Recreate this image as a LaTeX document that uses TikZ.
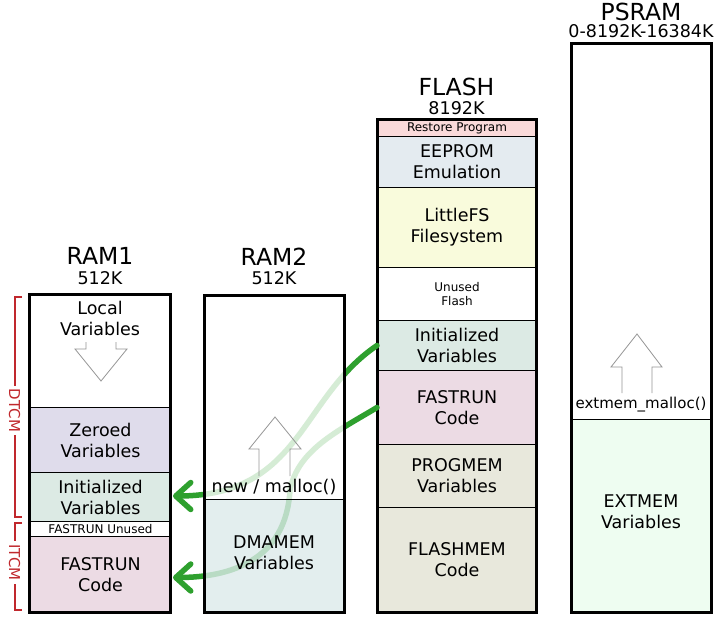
\documentclass[tikz,border=0pt]{standalone}
\usepackage{fontspec}
\setmainfont{DejaVu Sans}
\usetikzlibrary{arrows.meta}
\definecolor{cZero}{RGB}{223,220,235}
\definecolor{cInit}{RGB}{220,234,228}
\definecolor{cFast}{RGB}{236,219,228}
\definecolor{cDma}{RGB}{220,234,234}
\definecolor{cRest}{RGB}{250,218,218}
\definecolor{cEep}{RGB}{228,235,240}
\definecolor{cFs}{RGB}{249,251,220}
\definecolor{cProg}{RGB}{232,232,220}
\definecolor{cExt}{RGB}{238,253,241}
\definecolor{cGreen}{RGB}{46,160,46}
\definecolor{cRed}{RGB}{192,40,45}
\definecolor{cGray}{RGB}{150,150,150}
\newcommand\myBody{\fontsize{17.5}{21}\selectfont}
\newcommand\myTitle{\fontsize{23.5}{28}\selectfont}
\newcommand\mySmall{\fontsize{12}{13.5}\selectfont}
\newcommand\myMid{\fontsize{15}{18}\selectfont}
\begin{document}
\begin{tikzpicture}[x=1pt,y=-1pt,
  reg/.style={draw=black, line width=1pt, anchor=north west, inner sep=0pt, align=center, font=\myBody},
  outer/.style={draw=black, line width=3pt},
  title/.style={font=\myTitle, inner sep=0pt},
  sub/.style={font=\myBody, inner sep=0pt},
  txt/.style={font=\myBody, inner sep=0pt, align=center},
  hollow/.style={draw=cGray, line width=0.8pt},
  garrow/.style={draw=cGreen, line width=5.5pt, line cap=round, -{Straight Barb[length=15pt,width=27pt,round]}},
  bracket/.style={draw=cRed, line width=1.1pt},
  blabel/.style={font=\myMid, text=cRed, rotate=-90, inner sep=0pt}]
\useasboundingbox (0,0) rectangle (720,620);

% ---------- RAM1 ----------
\node[title] (r1title) at (100,256) {RAM1};
\node[sub] (r1size) at (100,278) {512K};
\node[reg, fill=white, minimum width=141pt, minimum height=112pt] (r1local) at (29.5,295) {};
\node[reg, fill=cZero, minimum width=141pt, minimum height=65pt] (r1zero) at (29.5,407) {Zeroed\\Variables};
\node[reg, fill=cInit, minimum width=141pt, minimum height=49pt] (r1init) at (29.5,472) {Initialized\\Variables};
\node[reg, fill=white, minimum width=141pt, minimum height=15pt, font=\mySmall] (r1unused) at (29.5,521) {FASTRUN Unused};
\node[reg, fill=cFast, minimum width=141pt, minimum height=76pt] (r1fast) at (29.5,536) {FASTRUN\\Code};
\node[txt] (r1localtxt) at (100,318.5) {Local\\Variables};
\draw[hollow] (86,342) -- (86,349) -- (75,349) -- (101,381) -- (127,349) -- (116,349) -- (116,342);
\draw[outer] (29.5,295) rectangle (170.5,612);

% ---------- FLASH ----------
\node[title] (fltitle) at (456.5,86.5) {FLASH};
\node[sub] (flsize) at (456.5,108) {8192K};
\node[reg, fill=cRest, minimum width=159pt, minimum height=16pt, font=\mySmall] (flrest) at (377,120) {Restore Program};
\node[reg, fill=cEep, minimum width=159pt, minimum height=51pt] (fleep) at (377,136) {EEPROM\\Emulation};
\node[reg, fill=cFs, minimum width=159pt, minimum height=80pt] (flfs) at (377,187) {LittleFS\\Filesystem};
\node[reg, fill=white, minimum width=159pt, minimum height=53pt, font=\mySmall] (flunused) at (377,267) {Unused\\Flash};
\node[reg, fill=cInit, minimum width=159pt, minimum height=50pt] (flinit) at (377,320) {Initialized\\Variables};
\node[reg, fill=cFast, minimum width=159pt, minimum height=74pt] (flfast) at (377,370) {FASTRUN\\Code};
\node[reg, fill=cProg, minimum width=159pt, minimum height=63pt] (flprog) at (377,444) {PROGMEM\\Variables};
\node[reg, fill=cProg, minimum width=159pt, minimum height=105pt] (flmem) at (377,507) {FLASHMEM\\Code};
\draw[outer] (377,120) rectangle (536,612);

% ---------- green arrows (under RAM2) ----------
\draw[garrow] (flinit.west) .. controls +(-77,52) and +(128,0) .. ([xshift=1.5pt,yshift=1pt]r1init.east);
\draw[garrow] (flfast.west) .. controls +(-40,24) and (298,450) .. (290,490)
   .. controls (286,560) and +(58,0) .. ([xshift=1.5pt,yshift=-3pt]r1fast.east);

% ---------- RAM2 ----------
\node[title] (r2title) at (274,256.5) {RAM2};
\node[sub] (r2size) at (274,278) {512K};
\node[reg, fill=white, fill opacity=0.8, text opacity=1, draw opacity=1, minimum width=140pt, minimum height=203pt] (r2heap) at (204,296) {};
\node[reg, fill=cDma, fill opacity=0.8, text opacity=1, draw opacity=1, minimum width=140pt, minimum height=113pt] (r2dma) at (204,499) {};
\node[txt] (r2dmatxt) at (274,553) {DMAMEM\\Variables};
\draw[hollow] (259,476) -- (259,449) -- (249,449) -- (275,417) -- (301,449) -- (290,449) -- (290,476);
\node[txt] (r2malloc) at (274,487) {new / malloc()};
\draw[outer] (204,296) rectangle (344,612);

% ---------- PSRAM ----------
\node[title] (pstitle) at (641,12) {PSRAM};
\node[sub] (pssize) at (641,31.5) {0-8192K-16384K};
\node[reg, fill=white, minimum width=140pt, minimum height=375pt] (psheap) at (571,44) {};
\node[reg, fill=cExt, minimum width=140pt, minimum height=193pt] (psext) at (571,419) {};
\node[txt] (psexttxt) at (641,512) {EXTMEM\\Variables};
\draw[hollow] (622,393) -- (622,367) -- (611,367) -- (637,334) -- (662,367) -- (652,367) -- (652,393);
\node[txt, font=\myMid] (psmalloc) at (641,405) {extmem\_malloc()};
\draw[outer] (571,44) rectangle (711,612);

% ---------- DTCM / ITCM brackets ----------
\coordinate (dtop) at (15,297);
\coordinate (dbot) at (15,517);
\coordinate (itop) at (15,523);
\coordinate (ibot) at (15,610);
\draw[bracket] ([xshift=7pt]dtop) -- (dtop) -- (dbot) -- ([xshift=7pt]dbot);
\draw[bracket] ([xshift=7pt]itop) -- (itop) -- (ibot) -- ([xshift=7pt]ibot);
\node[blabel, fill=white, inner ysep=1pt, inner xsep=3pt] (dtcm) at (14.5,410.5) {DTCM};
\node[blabel, fill=white, inner ysep=1pt, inner xsep=3pt] (itcm) at (14.5,562.5) {ITCM};
\end{tikzpicture}
\end{document}
